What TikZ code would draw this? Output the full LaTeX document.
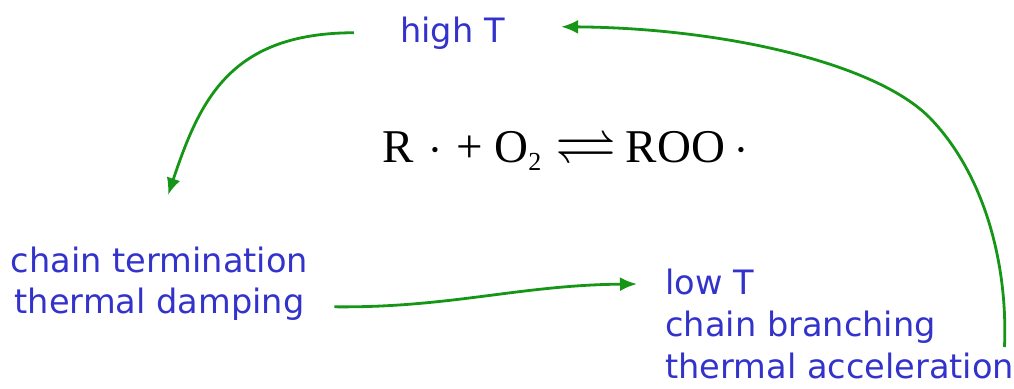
\documentclass[tikz,border=0pt]{standalone}
\usepackage{amsmath,amssymb}
\usepackage{fontspec}
\usepackage{tikz}
\usetikzlibrary{arrows.meta,positioning}
\newfontfamily\lblfamily{DejaVu Sans}
\newfontfamily\eqfamily{Liberation Serif}
\definecolor{flowgreen}{RGB}{22,150,22}
\definecolor{lblblue}{RGB}{51,51,204}
\newcommand{\lblfont}{\lblfamily\fontsize{16.8}{20.5}\selectfont}
\newcommand{\eqfont}{\eqfamily\fontsize{23.5}{26}\selectfont}
\newcommand{\eqsub}[1]{\raisebox{-4pt}{\fontsize{13}{13}\selectfont #1}}

\begin{document}
\begin{tikzpicture}[x=0.5pt, y=-0.5pt,
    lbl/.style={inner sep=0pt, text=lblblue, font=\lblfont},
    flow/.style={draw=flowgreen, line width=1.4pt, -{Latex[length=8.5pt,width=7pt]}}]
  \useasboundingbox (0,0) rectangle (1014,388);
  \node[lbl, anchor=base] (highT) at (452.5,42) {high T};
  \node[lbl, anchor=north, align=center] (term) at (159.5,246.5)
    {chain termination\\thermal damping};
  \node[lbl, anchor=north west, align=left] (lowT) at (665,269)
    {low T\\[0.5pt]chain branching\\[0.5pt]thermal acceleration};
  \node[inner sep=0pt, font=\eqfont, anchor=base] (eq) at (565.5,162)
    {R\hspace{0.3em}$\cdot$\hspace{0.3em}+\hspace{0.25em}O\eqsub{2}\hspace{0.3em}\scalebox{1.3}{$\rightleftharpoons$}\hspace{0.2em}ROO\hspace{0.2em}$\cdot$};
  % high T -> termination
  \draw[flow] ([xshift=-23pt]highT.west) .. controls (230,33) and (200,100)
    .. ([xshift=4.25pt,yshift=25.75pt]term.north);
  % termination -> low T
  \draw[flow] ([xshift=13pt,yshift=7pt]term.south east) .. controls (450,308) and (520,285)
    .. ([xshift=-14pt,yshift=-7.5pt]lowT.north west);
  % low T -> high T
  \draw[flow] ([xshift=-5pt,yshift=-39pt]lowT.north east) .. controls (1008,265) and (985,175)
    .. (930,118) .. controls (875,62) and (720,28) .. ([xshift=28pt,yshift=3pt]highT.east);
\end{tikzpicture}
\end{document}
